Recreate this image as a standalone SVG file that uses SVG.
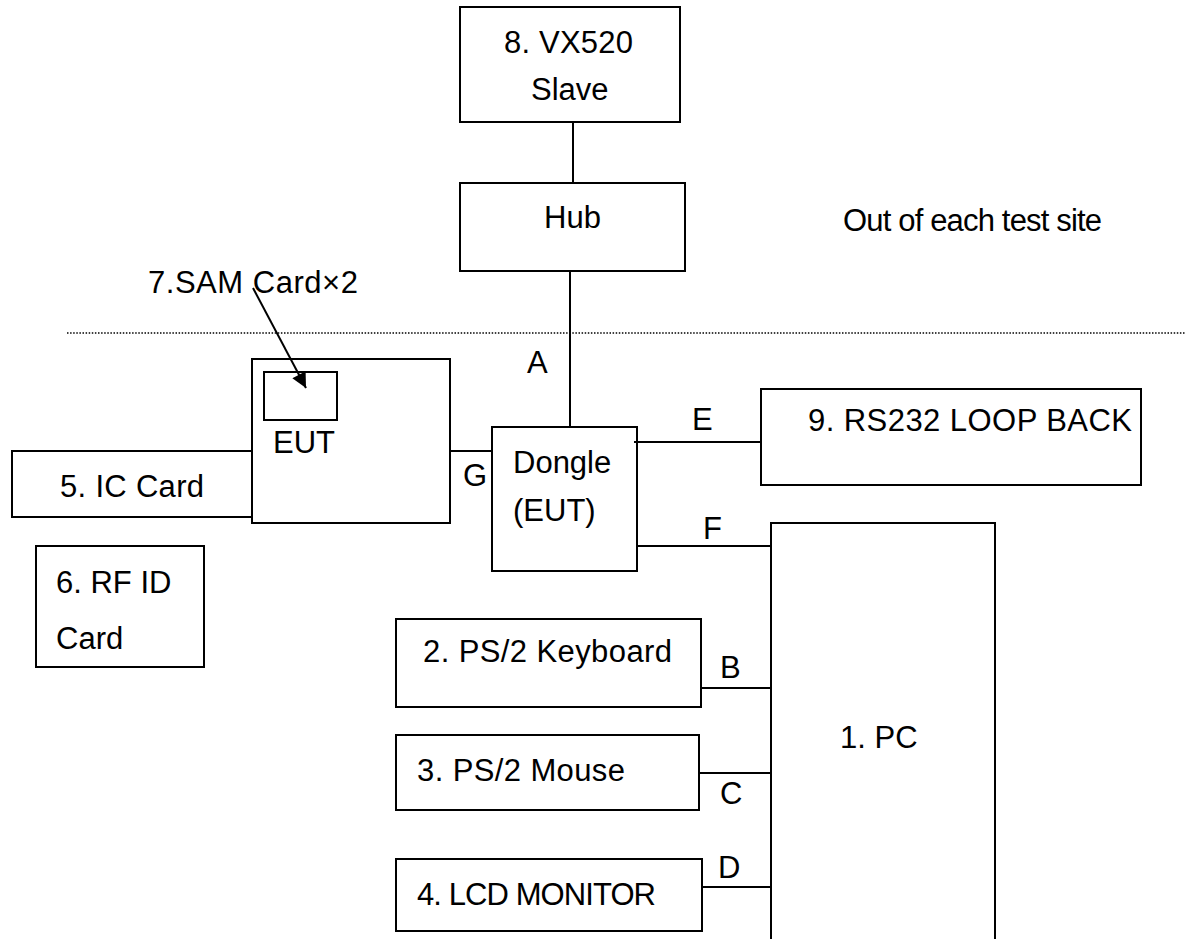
<svg xmlns="http://www.w3.org/2000/svg" width="1187" height="939" viewBox="0 0 1187 939">
<style>
.b{fill:none;stroke:#000;stroke-width:2}
.t{font-family:"Liberation Sans",Arial,sans-serif;font-size:31px;fill:#000}
.c{stroke:#000;stroke-width:2;fill:none}
.dot{stroke:#000;stroke-width:1.5;stroke-dasharray:1.5 1.6;fill:none}
</style>
<defs>
<marker id="ah" viewBox="0 0 10 10" refX="10" refY="5" markerWidth="16" markerHeight="15" markerUnits="userSpaceOnUse" orient="auto">
<path d="M0,0 L10,5 L0,10 z" fill="#000"/>
</marker>
</defs>
<rect width="1187" height="939" fill="#fff"/>
<g id="vx520">
<rect class="b" x="460" y="7" width="220" height="115"/>
<text class="t" x="504" y="53" textLength="129">8. VX520</text>
<text class="t" x="531" y="100">Slave</text>
</g>
<g id="hub">
<rect class="b" x="460" y="183" width="225" height="88"/>
<text class="t" x="544" y="228">Hub</text>
</g>
<g id="outside-label">
<text class="t" x="843" y="231" textLength="259">Out of each test site</text>
</g>
<g id="ic-card">
<rect class="b" x="12" y="451" width="240" height="66"/>
<text class="t" x="60" y="497" textLength="144">5. IC Card</text>
</g>
<g id="eut">
<rect class="b" x="252" y="359" width="198" height="164"/>
<rect class="b" x="264" y="372" width="73" height="48"/>
<text class="t" x="273" y="453">EUT</text>
</g>
<g id="sam-card">
<text class="t" x="148" y="293" textLength="210">7.SAM Card×2</text>
</g>
<g id="dongle">
<rect class="b" x="492" y="427" width="145" height="144"/>
<text class="t" x="513" y="473">Dongle</text>
<text class="t" x="513" y="521">(EUT)</text>
</g>
<g id="rs232">
<rect class="b" x="761" y="389" width="380" height="96"/>
<text class="t" x="808" y="431" textLength="324">9. RS232 LOOP BACK</text>
</g>
<g id="rfid">
<rect class="b" x="36" y="546" width="168" height="121"/>
<text class="t" x="56" y="593">6. RF ID</text>
<text class="t" x="56" y="649">Card</text>
</g>
<g id="pc">
<rect class="b" x="771" y="523" width="224" height="430"/>
<text class="t" x="840" y="748">1. PC</text>
</g>
<g id="keyboard">
<rect class="b" x="396" y="619" width="305" height="88"/>
<text class="t" x="423" y="662" textLength="249">2. PS/2 Keyboard</text>
</g>
<g id="mouse">
<rect class="b" x="396" y="735" width="303" height="75"/>
<text class="t" x="417" y="781" textLength="208">3. PS/2 Mouse</text>
</g>
<g id="monitor">
<rect class="b" x="396" y="859" width="306" height="72"/>
<text class="t" x="417" y="905" textLength="239">4. LCD MONITOR</text>
</g>
<g id="connectors">
<line class="dot" x1="67" y1="333" x2="1185" y2="333"/>
<line class="c" x1="573" y1="122" x2="573" y2="183"/>
<line class="c" x1="570" y1="271" x2="570" y2="427"/>
<line class="c" x1="450" y1="451" x2="492" y2="451"/>
<line class="c" x1="634" y1="442" x2="761" y2="442"/>
<line class="c" x1="637" y1="546" x2="771" y2="546"/>
<line class="c" x1="701" y1="688" x2="771" y2="688"/>
<line class="c" x1="699" y1="773" x2="771" y2="773"/>
<line class="c" x1="702" y1="887" x2="771" y2="887"/>
<line class="c" x1="253" y1="288" x2="306" y2="388" marker-end="url(#ah)"/>
<text class="t" x="527" y="373">A</text>
<text class="t" x="463" y="486">G</text>
<text class="t" x="692" y="430">E</text>
<text class="t" x="703" y="539">F</text>
<text class="t" x="720" y="678">B</text>
<text class="t" x="720" y="804">C</text>
<text class="t" x="718" y="878">D</text>
</g>
</svg>
